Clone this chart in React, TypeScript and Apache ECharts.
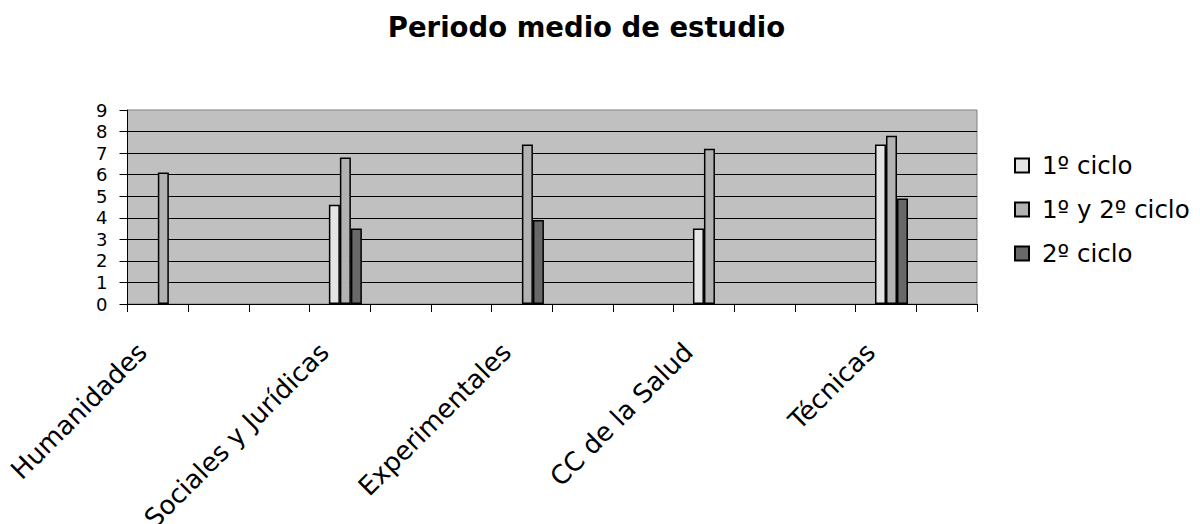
import React, { useEffect, useRef } from "react";
import * as echarts from "echarts";

const chartTitle = "Periodo medio de estudio";
const categoryLabels = [
  "Humanidades", "", "", "Sociales y Jurídicas", "", "", "Experimentales", "", "",
  "CC de la Salud", "", "", "Técnicas", "",
];
const seriesNames = ["1º ciclo", "1º y 2º ciclo", "2º ciclo"];
const primerCiclo = [null, null, null, 4.6, null, null, null, null, null, 3.5, null, null, 7.4, null];
const primerYSegundoCiclo = [6.1, null, null, 6.8, null, null, 7.4, null, null, 7.2, null, null, 7.8, null];
const segundoCiclo = [null, null, null, 3.5, null, null, 3.9, null, null, null, null, null, 4.9, null];
const emptySlot: (number | null)[] = [];
const yMin = 0;
const yMax = 9;
const yInterval = 1;

const seriesColors = ["#E4E4E4", "#B2B2B2", "#686868"];
const FONT = "DejaVu Sans";

export default function App() {
  const ref = useRef<HTMLDivElement>(null);
  useEffect(() => {
    if (!ref.current) return;
    const chart = echarts.init(ref.current, undefined, { renderer: "svg" });
    const barBase = {
      type: "bar" as const,
      barWidth: 11,
      barGap: "0%",
      itemStyle: { borderColor: "#000", borderWidth: 1.5 },
    };
    chart.setOption({
      animation: false,
      backgroundColor: "#fff",
      title: {
        text: chartTitle,
        left: 581.5,
        top: 8,
        textAlign: "center",
        textStyle: { fontFamily: FONT, fontSize: 27.5, fontWeight: "bold", color: "#000" },
      },
      legend: {
        data: seriesNames,
        orient: "vertical",
        left: 1009,
        top: 148,
        itemWidth: 14,
        itemHeight: 14,
        itemGap: 19,
        icon: "rect",
        textStyle: { fontFamily: FONT, fontSize: 24.5, color: "#000", padding: [0, 0, 0, 8], lineHeight: 25 },
      },
      grid: {
        left: 127.5,
        top: 110,
        width: 849.5,
        height: 194,
        show: true,
        outerBoundsMode: "none",
        containLabel: false,
        backgroundColor: "#C0C0C0",
        borderColor: "#808080",
        borderWidth: 1,
      },
      xAxis: {
        type: "category",
        data: categoryLabels,
        axisLine: { show: true, lineStyle: { color: "#000", width: 1 } },
        axisTick: { show: true, interval: 0, length: 8, lineStyle: { color: "#000" } },
        axisLabel: {
          interval: 0,
          rotate: 45,
          margin: 28,
          padding: [0, 22, 0, 0],
          fontFamily: FONT,
          fontSize: 26,
          color: "#000",
        },
        splitLine: { show: false },
      },
      yAxis: {
        type: "value",
        min: yMin,
        max: yMax,
        interval: yInterval,
        axisLine: { show: true, lineStyle: { color: "#000", width: 1 } },
        axisTick: { show: true, length: 8, lineStyle: { color: "#000" } },
        axisLabel: {
          margin: 20,
          fontFamily: FONT,
          fontSize: 18,
          lineHeight: 18,
          color: "#000",
          showMinLabel: true,
          showMaxLabel: true,
          hideOverlap: false,
        },
        splitLine: { show: true, showMaxLine: false, lineStyle: { color: "#000", width: 1 } },
      },
      series: [
        { ...barBase, name: "", data: emptySlot },
        { ...barBase, name: seriesNames[0], data: primerCiclo, itemStyle: { ...barBase.itemStyle, color: seriesColors[0] } },
        { ...barBase, name: seriesNames[1], data: primerYSegundoCiclo, itemStyle: { ...barBase.itemStyle, color: seriesColors[1] } },
        { ...barBase, name: seriesNames[2], data: segundoCiclo, itemStyle: { ...barBase.itemStyle, color: seriesColors[2] } },
      ],
    });
    return () => chart.dispose();
  }, []);
  return (
    <div
      ref={ref}
      style={{ position: "absolute", left: 0, top: 0, width: 1200, height: 524 }}
    />
  );
}
